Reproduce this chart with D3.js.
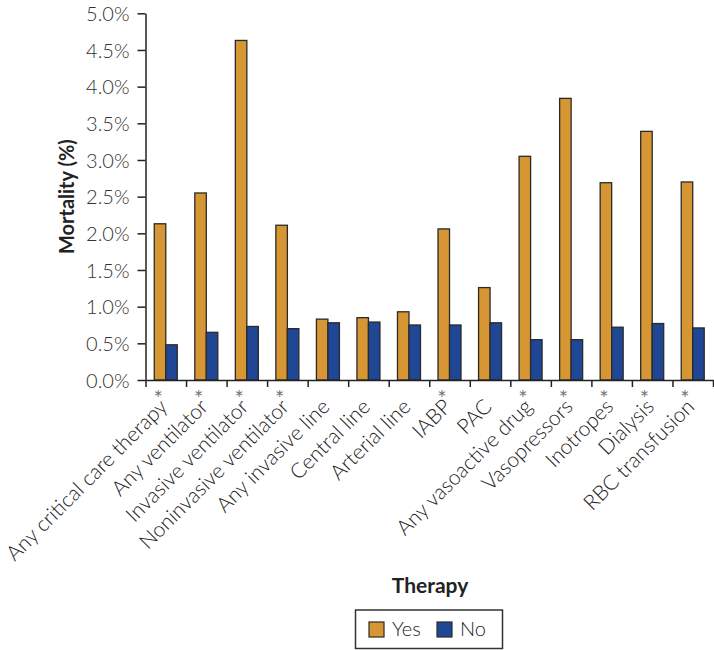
<!DOCTYPE html>
<html>
<head>
<meta charset="utf-8">
<script src="https://cdn.jsdelivr.net/npm/d3@7"></script>
<style>
  html, body { margin: 0; padding: 0; background: #fff; }
  svg { display: block; }
  text { font-family: "Lato", "Open Sans", sans-serif; }
</style>
</head>
<body>
<svg id="chart" width="714" height="650"></svg>
<script>
const categories = [
  "Any critical care therapy", "Any ventilator", "Invasive ventilator",
  "Noninvasive ventilator", "Any invasive line", "Central line",
  "Arterial line", "IABP", "PAC", "Any vasoactive drug", "Vasopressors",
  "Inotropes", "Dialysis", "RBC transfusion"
];
const starred = [true, true, true, true, false, false, false, true, false, true, true, true, true, true];
const yesValues = [2.13, 2.55, 4.63, 2.11, 0.83, 0.85, 0.93, 2.06, 1.26, 3.05, 3.84, 2.69, 3.39, 2.70];
const noValues  = [0.48, 0.65, 0.73, 0.70, 0.78, 0.79, 0.75, 0.75, 0.78, 0.55, 0.55, 0.72, 0.77, 0.71];
const seriesNames = ["Yes", "No"];
const seriesColors = ["#D69633", "#1F4796"];
const yTicks = [0, 0.5, 1.0, 1.5, 2.0, 2.5, 3.0, 3.5, 4.0, 4.5, 5.0];

(function () {
const svg = d3.select("#chart");
const mLeft = 145.5, mRight = 713, mTop = 13.3, mBottom = 380;

const x0 = d3.scaleBand().domain(categories).range([mLeft, mRight]).padding(0);
const bw = x0.bandwidth();
const groupW = 23;
const x1 = d3.scaleBand().domain(seriesNames).range([(bw - groupW) / 2, (bw + groupW) / 2]).padding(0);
const y = d3.scaleLinear().domain([0, 5]).range([mBottom, mTop]);
const color = d3.scaleOrdinal().domain(seriesNames).range(seriesColors);

const rows = categories.map((c, i) => ({ cat: c, vals: [
  { key: "Yes", v: yesValues[i] }, { key: "No", v: noValues[i] } ] }));

// bars
const g = svg.append("g");
g.selectAll("g.grp").data(rows).join("g")
  .attr("class", "grp")
  .attr("transform", d => `translate(${x0(d.cat)},0)`)
  .selectAll("rect").data(d => d.vals).join("rect")
  .attr("x", d => x1(d.key))
  .attr("width", x1.bandwidth())
  .attr("y", d => y(d.v))
  .attr("height", d => y(0) - y(d.v))
  .attr("fill", d => color(d.key))
  .attr("stroke", "#2a2a2a")
  .attr("stroke-width", 1.3);

// y axis
const yAxis = svg.append("g").attr("transform", `translate(${mLeft},0)`)
  .call(d3.axisLeft(y).tickValues(yTicks).tickSize(8).tickSizeOuter(0).tickPadding(8)
    .tickFormat(d => d.toFixed(1) + "%"));
yAxis.select(".domain").attr("stroke", "#222").attr("stroke-width", 1.5);
yAxis.selectAll(".tick line").attr("stroke", "#222").attr("stroke-width", 1.5);
yAxis.selectAll(".tick text").attr("fill", "#333").attr("font-size", 20).attr("font-weight", 300)
  .attr("dy", "0.36em");

// x axis boundary ticks
const xi = d3.scaleLinear().domain([0, categories.length]).range([mLeft, mRight]);
const xAxis = svg.append("g").attr("transform", `translate(0,${mBottom})`)
  .call(d3.axisBottom(xi).tickValues(d3.range(categories.length + 1)).tickSize(7).tickSizeOuter(0).tickFormat(""));
xAxis.select(".domain").attr("stroke", "#222").attr("stroke-width", 1.5);
xAxis.selectAll(".tick line").attr("stroke", "#222").attr("stroke-width", 1.5);

// category labels
const labG = svg.append("g");
categories.forEach((c, i) => {
  const center = x0(c) + bw / 2;
  labG.append("text")
    .attr("transform", `translate(${center + 3},${mBottom + 28}) rotate(-45)`)
    .attr("text-anchor", "end")
    .attr("font-size", 21)
    .attr("font-weight", 300)
    .attr("fill", "#222")
    .text(c);
  if (starred[i]) {
    labG.append("text")
      .attr("x", center - 7.7).attr("y", mBottom + 26)
      .attr("text-anchor", "middle")
      .attr("font-family", "DejaVu Sans")
      .attr("font-size", 22)
      .attr("fill", "#777")
      .text("*");
  }
});

// axis titles
svg.append("text")
  .attr("transform", `translate(74,${(mTop + mBottom) / 2}) rotate(-90)`)
  .attr("text-anchor", "middle")
  .attr("font-size", 20).attr("font-weight", 700).attr("fill", "#222")
  .text("Mortality (%)");

svg.append("text")
  .attr("x", 430).attr("y", 593)
  .attr("text-anchor", "middle")
  .attr("font-size", 21).attr("font-weight", 700).attr("fill", "#222")
  .text("Therapy");

// legend
const leg = svg.append("g");
leg.append("rect").attr("x", 355.5).attr("y", 610).attr("width", 147).attr("height", 38.5)
  .attr("fill", "#fff").attr("stroke", "#333").attr("stroke-width", 1.5);
const legX = [369, 437];
seriesNames.forEach((s, i) => {
  leg.append("rect").attr("x", legX[i]).attr("y", 622).attr("width", 15).attr("height", 15)
    .attr("fill", color(s)).attr("stroke", "#2a2a2a").attr("stroke-width", 1.2);
  leg.append("text").attr("x", legX[i] + 23).attr("y", 636)
    .attr("font-size", 20).attr("font-weight", 300).attr("fill", "#222").text(s);
});
})();
</script>
</body>
</html>
